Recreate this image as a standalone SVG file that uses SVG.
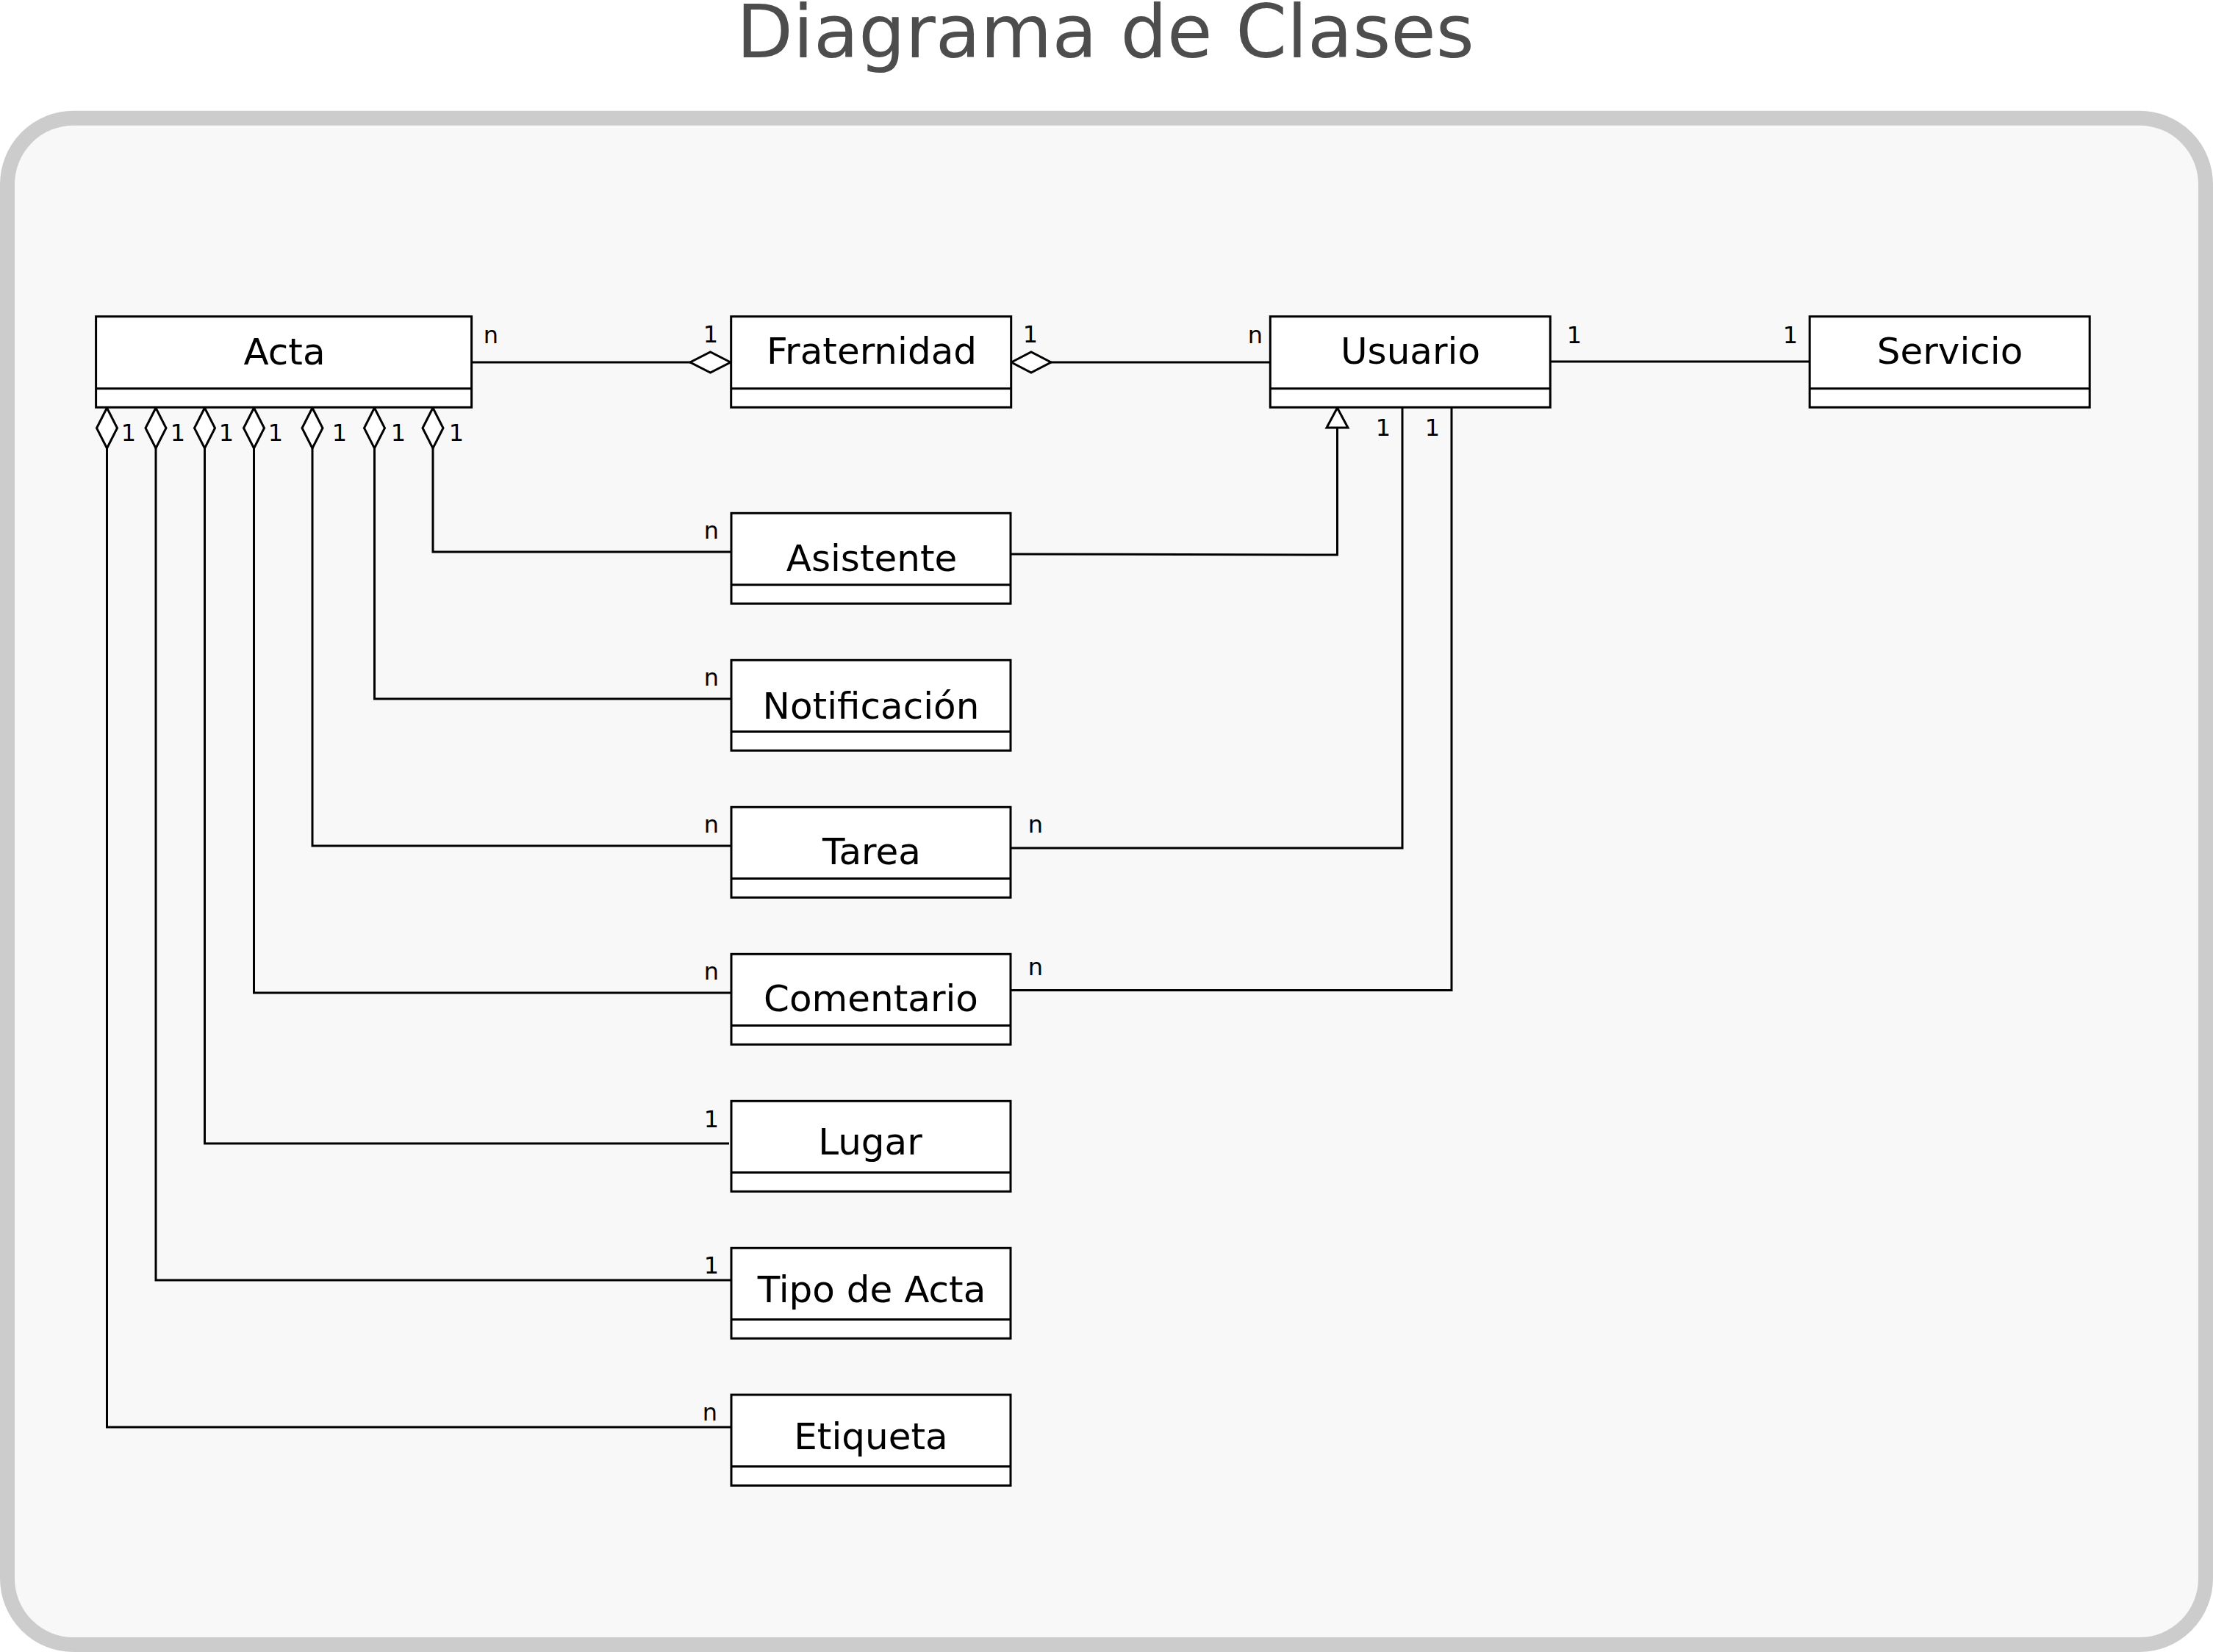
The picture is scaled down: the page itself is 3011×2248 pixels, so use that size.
<svg xmlns="http://www.w3.org/2000/svg" width="3011" height="2248" viewBox="0 0 3011 2248">
<style>
.box{fill:#ffffff;stroke:#000000;stroke-width:3}
.div{stroke:#000000;stroke-width:3}
.name{font-family:"DejaVu Sans",sans-serif;font-size:50px;fill:#000000;text-anchor:middle}
.mult{font-family:"DejaVu Sans",sans-serif;font-size:32px;fill:#000000;text-anchor:middle}
.edge{fill:none;stroke:#000000;stroke-width:3}
.dia{fill:#ffffff;stroke:#000000;stroke-width:3;stroke-linejoin:miter}
.title{font-family:"DejaVu Sans",sans-serif;font-size:100px;fill:#4d4d4d;text-anchor:middle}
</style>
<rect x="0" y="0" width="3011" height="2248" fill="#ffffff"/>
<text class="title" x="1504" y="78">Diagrama de Clases</text>
<rect x="10" y="160.7" width="2991" height="2077.3" rx="90" ry="90" fill="#f8f8f8" stroke="#cccccc" stroke-width="20"/>

<g id="connectors">
  <!-- Acta - Fraternidad -->
  <line class="edge" x1="642" y1="493" x2="940" y2="493"/>
  <polygon class="dia" points="994,493 966.5,479 939,493 966.5,507"/>
  <!-- Fraternidad - Usuario -->
  <polygon class="dia" points="1376,493 1403,479 1430,493 1403,507"/>
  <line class="edge" x1="1430" y1="493" x2="1728" y2="493"/>
  <!-- Usuario - Servicio -->
  <line class="edge" x1="2109" y1="492" x2="2462" y2="492"/>
  <!-- Acta aggregations -->
  <polyline class="edge" points="995,751 589,751 589,610"/>
  <polygon class="dia" points="589,555 575,582.5 589,610 603,582.5"/>
  <polyline class="edge" points="995,951 509.5,951 509.5,610"/>
  <polygon class="dia" points="509.5,555 495.5,582.5 509.5,610 523.5,582.5"/>
  <polyline class="edge" points="995,1151 425,1151 425,610"/>
  <polygon class="dia" points="425,555 411,582.5 425,610 439,582.5"/>
  <polyline class="edge" points="995,1351 345.5,1351 345.5,610"/>
  <polygon class="dia" points="345.5,555 331.5,582.5 345.5,610 359.5,582.5"/>
  <polyline class="edge" points="992,1556 278.5,1556 278.5,610"/>
  <polygon class="dia" points="278.5,555 264.5,582.5 278.5,610 292.5,582.5"/>
  <polyline class="edge" points="995,1742 212,1742 212,610"/>
  <polygon class="dia" points="212,555 198,582.5 212,610 226,582.5"/>
  <polyline class="edge" points="995,1942 145.5,1942 145.5,610"/>
  <polygon class="dia" points="145.5,555 131.5,582.5 145.5,610 159.5,582.5"/>
  <!-- Asistente generalization to Usuario -->
  <polyline class="edge" points="1375,754 1819.5,755 1819.5,582"/>
  <polygon class="dia" points="1819.5,555 1805,582 1834,582"/>
  <!-- Tarea - Usuario -->
  <polyline class="edge" points="1375,1154 1908,1154 1908,555"/>
  <!-- Comentario - Usuario -->
  <polyline class="edge" points="1375,1347.5 1975,1347.5 1975,555"/>
  <!-- multiplicities -->
  <text class="mult" x="668" y="467">n</text>
  <text class="mult" x="967" y="466">1</text>
  <text class="mult" x="1402" y="466">1</text>
  <text class="mult" x="1708" y="467">n</text>
  <text class="mult" x="2142" y="467">1</text>
  <text class="mult" x="2436" y="467">1</text>
  <text class="mult" x="175" y="600">1</text>
  <text class="mult" x="242" y="600">1</text>
  <text class="mult" x="308" y="600">1</text>
  <text class="mult" x="375" y="600">1</text>
  <text class="mult" x="462" y="600">1</text>
  <text class="mult" x="542" y="600">1</text>
  <text class="mult" x="621" y="600">1</text>
  <text class="mult" x="1882" y="593">1</text>
  <text class="mult" x="1949" y="593">1</text>
  <text class="mult" x="968" y="733">n</text>
  <text class="mult" x="968" y="933">n</text>
  <text class="mult" x="968" y="1133">n</text>
  <text class="mult" x="1409" y="1133">n</text>
  <text class="mult" x="968" y="1333">n</text>
  <text class="mult" x="1409" y="1327">n</text>
  <text class="mult" x="968" y="1534">1</text>
  <text class="mult" x="968" y="1733">1</text>
  <text class="mult" x="966" y="1933">n</text>
</g>

<g id="acta">
  <rect class="box" x="130.6" y="430.7" width="511" height="123.6"/>
  <line class="div" x1="130.6" y1="528.7" x2="641.6" y2="528.7"/>
  <text class="name" x="387" y="496">Acta</text>
</g>
<g id="fraternidad">
  <rect class="box" x="994.7" y="430.7" width="381" height="123.6"/>
  <line class="div" x1="994.7" y1="528.7" x2="1375.7" y2="528.7"/>
  <text class="name" x="1186" y="495">Fraternidad</text>
</g>
<g id="usuario">
  <rect class="box" x="1728.3" y="430.7" width="381" height="123.6"/>
  <line class="div" x1="1728.3" y1="528.7" x2="2109.3" y2="528.7"/>
  <text class="name" x="1919" y="495">Usuario</text>
</g>
<g id="servicio">
  <rect class="box" x="2462.2" y="430.7" width="381" height="123.6"/>
  <line class="div" x1="2462.2" y1="528.7" x2="2843.2" y2="528.7"/>
  <text class="name" x="2653" y="495">Servicio</text>
</g>
<g id="asistente">
  <rect class="box" x="995" y="698.3" width="380" height="123"/>
  <line class="div" x1="995" y1="795.7" x2="1375" y2="795.7"/>
  <text class="name" x="1186" y="777">Asistente</text>
</g>
<g id="notificacion">
  <rect class="box" x="995" y="898.3" width="380" height="123"/>
  <line class="div" x1="995" y1="995.5" x2="1375" y2="995.5"/>
  <text class="name" x="1185" y="977.5">Notificación</text>
</g>
<g id="tarea">
  <rect class="box" x="995" y="1098.3" width="380" height="123"/>
  <line class="div" x1="995" y1="1195.5" x2="1375" y2="1195.5"/>
  <text class="name" x="1186" y="1176">Tarea</text>
</g>
<g id="comentario">
  <rect class="box" x="995" y="1298.3" width="380" height="123"/>
  <line class="div" x1="995" y1="1395.5" x2="1375" y2="1395.5"/>
  <text class="name" x="1185" y="1376">Comentario</text>
</g>
<g id="lugar">
  <rect class="box" x="995" y="1498.3" width="380" height="123"/>
  <line class="div" x1="995" y1="1595.5" x2="1375" y2="1595.5"/>
  <text class="name" x="1184" y="1571">Lugar</text>
</g>
<g id="tipo-de-acta">
  <rect class="box" x="995" y="1698.3" width="380" height="123"/>
  <line class="div" x1="995" y1="1795.5" x2="1375" y2="1795.5"/>
  <text class="name" x="1186" y="1772">Tipo de Acta</text>
</g>
<g id="etiqueta">
  <rect class="box" x="995" y="1898" width="380" height="123.5"/>
  <line class="div" x1="995" y1="1995.5" x2="1375" y2="1995.5"/>
  <text class="name" x="1185" y="1971.5">Etiqueta</text>
</g>
</svg>
